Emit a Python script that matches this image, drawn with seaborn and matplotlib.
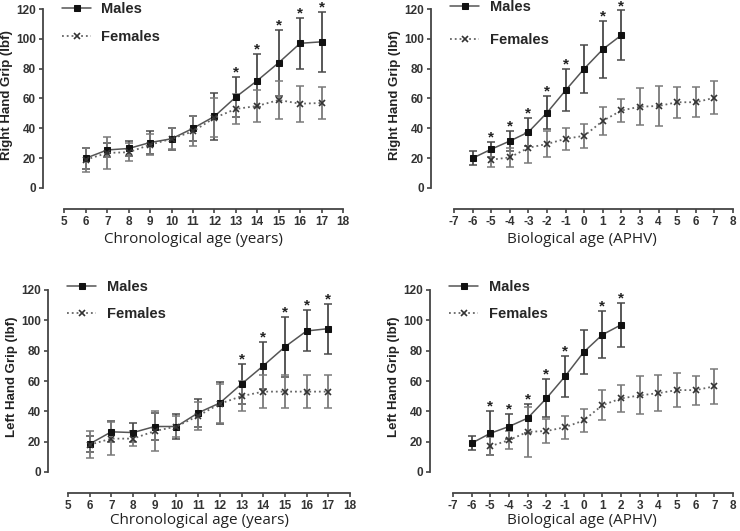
import pandas as pd
import matplotlib
matplotlib.use("Agg")
import matplotlib.pyplot as plt
import seaborn as sns

# chronological age (years)
chrono_age = [6, 7, 8, 9, 10, 11, 12, 13, 14, 15, 16, 17]
# biological age (years from APHV)
bio_age_m = [-6, -5, -4, -3, -2, -1, 0, 1, 2]
bio_age_f = [-5, -4, -3, -2, -1, 0, 1, 2, 3, 4, 5, 6, 7]

# right hand, chronological
rc_m_mean = [20, 25.5, 26.5, 30.5, 33, 40, 48, 61, 72, 84, 97, 98]
rc_m_sd = [7, 5, 5, 8, 7.5, 8.5, 16, 13.5, 18, 22, 17, 20]
rc_f_mean = [19, 23.5, 24, 29, 33, 38, 47, 53, 55, 59, 56.5, 57]
rc_f_sd = [8, 11, 6, 7, 7, 10, 13, 10, 11, 13, 12, 11]
rc_sig = [13, 14, 15, 16, 17]

# right hand, biological
rb_m_mean = [20, 26, 31.5, 37.5, 50.5, 65.5, 80, 93, 102.5]
rb_m_sd = [4.5, 5, 6.5, 9.5, 11, 14, 16, 19, 16.5]
rb_f_mean = [19, 20.5, 27, 29.5, 33, 35, 45, 52, 54.5, 55, 57.5, 57.5, 60.5]
rb_f_sd = [5, 6.5, 10, 8.5, 7.5, 8, 9.5, 7.5, 12.5, 13.5, 10.5, 10, 11]
rb_sig = [-5, -4, -3, -2, -1, 1, 2]

# left hand, chronological
lc_m_mean = [18.5, 26.5, 26, 30, 30, 39, 45.5, 58, 70, 82.5, 93, 94.5]
lc_m_sd = [5, 7, 6, 9, 8, 9, 14, 13, 15.5, 20, 13.5, 16.5]
lc_f_mean = [18, 22, 22, 27, 30, 37, 45, 50, 53, 53, 53, 53]
lc_f_sd = [9, 11, 5, 13, 7, 9, 13, 10, 11, 11, 11, 11]
lc_sig = [13, 14, 15, 16, 17]

# left hand, biological
lb_m_mean = [19, 25.5, 30, 35.5, 48.5, 63, 79, 90.5, 97]
lb_m_sd = [4.5, 14.5, 8, 9.5, 12.5, 13.5, 14.5, 15.5, 14.5]
lb_f_mean = [17, 21, 26.5, 27, 29.5, 34, 44, 48.5, 50.5, 52, 54, 54, 56.5]
lb_f_sd = [6, 6, 16.5, 8, 7.5, 7.5, 10, 9, 12.5, 12, 11, 9.5, 11.5]
lb_sig = [-5, -4, -3, -2, -1, 1, 2]

sns.set_style("ticks")
plt.rcParams['font.family'] = ['Liberation Sans', 'DejaVu Sans']
plt.rcParams['axes.unicode_minus'] = False

W, H = 740, 531
fig = plt.figure(figsize=(7.4, 5.31), dpi=100)


def make_axes(px_left, px_right, px_y0, px_y120):
    per = (px_y0 - px_y120) / 120.0
    px_top = px_y120 - per * 5
    return fig.add_axes([px_left / W, 1 - px_y0 / H,
                         (px_right - px_left) / W, (px_y0 - px_top) / H])


def draw_panel(ax, xm, m_mean, m_sd, xf, f_mean, f_sd, sig, xlim, xbounds,
               ylabel, xlabel, xlabelpad, leg_anchor, leg_space):
    dm = pd.DataFrame({'age': xm, 'grip': m_mean})
    df = pd.DataFrame({'age': xf, 'grip': f_mean})
    ax.errorbar(xm, m_mean, yerr=m_sd, fmt='none', ecolor='#4a4a4a',
                elinewidth=1.3, capsize=3, capthick=1.1, zorder=2)
    ax.errorbar(xf, f_mean, yerr=f_sd, fmt='none', ecolor='#7a7a7a',
                elinewidth=1.3, capsize=3, capthick=1.1, zorder=2)
    sns.lineplot(data=dm, x='age', y='grip', ax=ax, color='#555555',
                 linewidth=1.1, marker='s', markersize=4.5,
                 markerfacecolor='#111111', markeredgecolor='#111111',
                 label='Males', zorder=3)
    sns.lineplot(data=df, x='age', y='grip', ax=ax, color='#666666',
                 linewidth=1.3, linestyle=':', marker='x', markersize=4,
                 markeredgecolor='#333333', markeredgewidth=1.2,
                 label='Females', zorder=3)
    # significance asterisks above the male error bars
    for a, m, s in zip(xm, m_mean, m_sd):
        if a in sig:
            ax.text(a, m + s + 3, '*', ha='center', va='center',
                    fontsize=11, fontweight='bold', color='#222222',
                    clip_on=False)

    ax.set_xlim(*xlim)
    ax.set_ylim(0, 125)
    ax.set_xticks(range(xbounds[0], xbounds[1] + 1))
    ax.set_yticks(range(0, 121, 20))
    ax.spines['top'].set_visible(False)
    ax.spines['right'].set_visible(False)
    ax.spines['left'].set_bounds(0, 120)
    ax.spines['bottom'].set_bounds(*xbounds)
    ax.spines['bottom'].set_position(('outward', 15))
    for sp in ('left', 'bottom'):
        ax.spines[sp].set_color('#444444')
        ax.spines[sp].set_linewidth(1.3)
    ax.tick_params(axis='both', colors='#444444', labelsize=8.5,
                   length=3, width=1.2, labelcolor='#333333', pad=2)
    for t in ax.get_xticklabels() + ax.get_yticklabels():
        t.set_fontweight('bold')
    ax.set_ylabel(ylabel, fontsize=9.5, fontweight='bold', color='#222222',
                  labelpad=2)
    ax.set_xlabel(xlabel, fontsize=11, color='#222222', labelpad=xlabelpad,
                  family=['Open Sans', 'DejaVu Sans'])
    ax.legend(loc='upper left', bbox_to_anchor=leg_anchor, frameon=False,
              labelspacing=leg_space, handlelength=2.0, handletextpad=0.7,
              prop={'weight': 'bold', 'size': 10.5})


ax1 = make_axes(43, 343, 188, 9)
draw_panel(ax1, chrono_age, rc_m_mean, rc_m_sd, chrono_age, rc_f_mean,
           rc_f_sd, rc_sig, (4.0, 18.0), (5, 18),
           'Right Hand Grip (lbf)', 'Chronological age (years)', 3,
           (0.02, 1.07), 1.0)

ax2 = make_axes(431, 733, 188, 9)
draw_panel(ax2, bio_age_m, rb_m_mean, rb_m_sd, bio_age_f, rb_f_mean,
           rb_f_sd, rb_sig, (-8.24, 8.0), (-7, 8),
           'Right Hand Grip (lbf)', 'Biological age (APHV)', 3,
           (0.02, 1.08), 1.35)

ax3 = make_axes(48, 350, 472, 290)
draw_panel(ax3, chrono_age, lc_m_mean, lc_m_sd, chrono_age, lc_f_mean,
           lc_f_sd, lc_sig, (4.08, 18.0), (5, 18),
           'Left Hand Grip (lbf)', 'Chronological age (years)', 1,
           (0.02, 1.08), 0.85)

ax4 = make_axes(430, 733, 472, 290)
draw_panel(ax4, bio_age_m, lb_m_mean, lb_m_sd, bio_age_f, lb_f_mean,
           lb_f_sd, lb_sig, (-8.23, 8.0), (-7, 8),
           'Left Hand Grip (lbf)', 'Biological age (APHV)', 1,
           (0.02, 1.08), 0.85)

fig.savefig('out.png', dpi=100)
